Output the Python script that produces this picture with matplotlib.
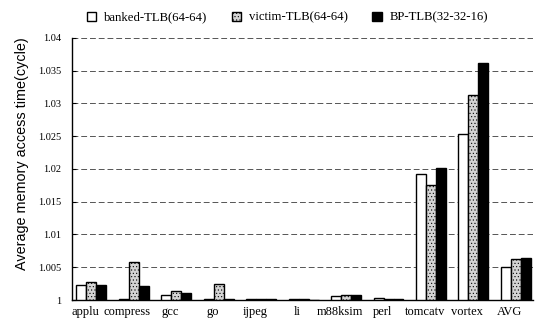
import matplotlib
matplotlib.use("Agg")
import matplotlib.pyplot as plt
import numpy as np

categories = ["applu", "compress", "gcc", "go", "ijpeg", "li", "m88ksim", "perl", "tomcatv", "vortex", "AVG"]
banked = [1.0023, 1.0002, 1.0007, 1.0001, 1.0002, 1.0001, 1.0006, 1.0003, 1.0193, 1.0254, 1.0051]
victim = [1.0027, 1.0058, 1.0014, 1.0025, 1.0002, 1.0001, 1.0007, 1.0002, 1.0176, 1.0313, 1.0063]
bp     = [1.0023, 1.0022, 1.0010, 1.0001, 1.0001, 1.0000, 1.0007, 1.0001, 1.0201, 1.0362, 1.0064]
series_names = ["banked-TLB(64-64)", "victim-TLB(64-64)", "BP-TLB(32-32-16)"]
yticks = [1, 1.005, 1.01, 1.015, 1.02, 1.025, 1.03, 1.035, 1.04]
ytick_labels = ["1", "1.005", "1.01", "1.015", "1.02", "1.025", "1.03", "1.035", "1.04"]

plt.rcParams['font.family'] = ['Liberation Serif', 'DejaVu Serif']
plt.rcParams['hatch.linewidth'] = 0.4

fig = plt.figure(figsize=(5.35, 3.2), dpi=100)
ax = fig.add_axes([0.135, 0.0625, 0.861, 0.819])

x = np.arange(len(categories))
w = 0.235
base = 1.0
ax.bar(x - w, np.array(banked) - base, w, bottom=base, color='white', edgecolor='black', linewidth=1.0, label=series_names[0], zorder=3)
ax.bar(x, np.array(victim) - base, w, bottom=base, color='#d4d4d4', edgecolor='black', hatch='.....', linewidth=1.0, label=series_names[1], zorder=3)
ax.bar(x + w, np.array(bp) - base, w, bottom=base, color='black', edgecolor='black', linewidth=1.0, label=series_names[2], zorder=3)

ax.set_ylim(1, 1.04)
ax.set_xlim(-0.45, 10.4)
ax.set_yticks(yticks)
ax.set_yticklabels(ytick_labels, fontsize=7.5)
ax.set_xticks(x - 0.15)
ax.set_xticklabels(categories, fontsize=9)
ax.tick_params(axis='x', length=0, pad=4)
ax.tick_params(axis='y', length=3, direction='in', pad=8)
ax.yaxis.grid(True, linestyle=(0, (6, 3)), color='#555555', linewidth=0.7, zorder=0)
ax.spines['right'].set_visible(False)
ax.spines['top'].set_visible(False)
ax.spines['left'].set_linewidth(1.0)
ax.spines['bottom'].set_linewidth(1.0)
ax.set_ylabel("Average memory access time(cycle)", fontsize=10.4,
              family=['Liberation Sans', 'DejaVu Sans'])
ax.yaxis.set_label_coords(-0.093, 0.56)

fig.legend(loc='upper center', bbox_to_anchor=(0.537, 1.0), ncol=3, frameon=False, fontsize=9.2,
           handlelength=0.75, handleheight=0.75, columnspacing=1.9, handletextpad=0.6)

fig.savefig("out.png", dpi=100)
